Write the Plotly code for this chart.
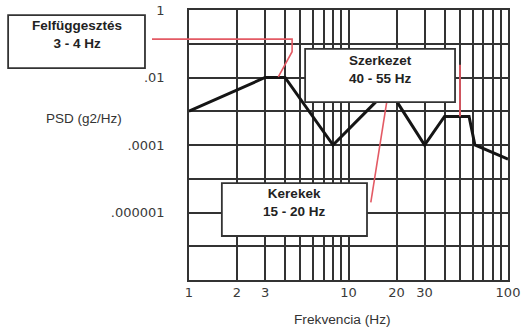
import math
import plotly.graph_objects as go

# ---- data ----
freq_hz = [1, 3, 4, 8, 15, 20, 30, 40, 57, 62, 100]
psd_g2hz = [1e-3, 1e-2, 1e-2, 1e-4, 2e-3, 2e-3, 1e-4, 7e-4, 7e-4, 1e-4, 3.8e-5]

x_grid = [1, 2, 3, 4, 5, 6, 7, 8, 9, 10, 20, 30, 40, 50, 60, 70, 80, 90, 100]
x_text = ['1', '2', '3', '', '', '', '', '', '', '10', '20', '30', '', '', '', '', '', '', '100']
y_grid = [1e-8, 1e-7, 1e-6, 1e-5, 1e-4, 1e-3, 1e-2, 1e-1, 1]
y_text = ['', '', '.000001', '', '.0001', '', '.01', '', '1']

box_titles = ['Felfüggesztés', 'Szerkezet', 'Kerekek']
box_ranges = ['3 - 4 Hz', '40 - 55 Hz', '15 - 20 Hz']

X_RANGE = [0, 2]
Y_RANGE = [-8, 0]

def xp(v):
    return (math.log10(v) - X_RANGE[0]) / (X_RANGE[1] - X_RANGE[0])

def yp(v):
    return (math.log10(v) - Y_RANGE[0]) / (Y_RANGE[1] - Y_RANGE[0])

fig = go.Figure()
fig.add_trace(go.Scatter(x=freq_hz, y=psd_g2hz, mode='lines',
                         line=dict(color='#151515', width=3), hoverinfo='skip',
                         showlegend=False))

grid_col = '#333333'
fig.update_xaxes(type='log', range=X_RANGE, tickvals=x_grid, ticktext=x_text,
                 showgrid=True, gridcolor=grid_col, gridwidth=1.6, automargin=False,
                 showline=True, linecolor=grid_col, linewidth=1.6, mirror=True,
                 ticks='', tickfont=dict(family='DejaVu Sans', size=13, color='#3a3a3a'))
fig.update_yaxes(type='log', range=Y_RANGE, tickvals=y_grid, ticktext=y_text,
                 showgrid=True, gridcolor=grid_col, gridwidth=1.6, automargin=False,
                 showline=True, linecolor=grid_col, linewidth=1.6, mirror=True,
                 ticks='', ticklabelstandoff=20,
                 tickfont=dict(family='DejaVu Sans', size=13, color='#3a3a3a'))

red = '#e35a64'
shapes = []
# leader line: Felfüggesztés -> 3-4 Hz plateau
shapes.append(dict(type='path', xref='paper', yref='paper', layer='above',
                   path=f'M -0.116,{yp(0.137):.4f} L {xp(4.43):.4f},{yp(0.137):.4f} '
                        f'L {xp(4.43):.4f},{yp(0.058):.4f} L {xp(3.63):.4f},{yp(0.0105):.4f}',
                   line=dict(color=red, width=1.6)))
# leader line: Szerkezet -> 40-55 Hz plateau
shapes.append(dict(type='line', xref='x', yref='y', layer='above',
                   x0=50, x1=50, y0=0.024, y1=7e-4, line=dict(color=red, width=1.8)))
# leader line: Kerekek -> 15-20 Hz plateau
shapes.append(dict(type='line', xref='x', yref='y', layer='above',
                   x0=17.4, x1=13.8, y0=2e-3, y1=2e-6, line=dict(color=red, width=1.6)))

# boxes (paper coordinates)
boxes = [(-0.567, -0.138, 0.785, 0.981),
         (0.364, 0.834, 0.659, 0.856),
         (0.103, 0.558, 0.163, 0.359)]
centers = [(-0.351, 0.909), (0.599, 0.780), (0.332, 0.287)]
for (x0, x1, y0, y1) in boxes:
    shapes.append(dict(type='rect', xref='paper', yref='paper', layer='above',
                       x0=x0, x1=x1, y0=y0, y1=y1, fillcolor='white',
                       line=dict(color='#333333', width=1.8)))

annotations = []
for (cx, cy), t, r in zip(centers, box_titles, box_ranges):
    annotations.append(dict(xref='paper', yref='paper', x=cx, y=cy, showarrow=False,
                            text=f'<b>{t}<br>{r}</b>', align='center',
                            xanchor='center', yanchor='middle',
                            font=dict(family='Liberation Sans', size=13.5, color='#222222')))
annotations.append(dict(xref='paper', yref='paper', x=-0.328, y=0.6, showarrow=False,
                        text='PSD (g2/Hz)', xanchor='center', yanchor='middle',
                        font=dict(family='Liberation Sans', size=13.5, color='#333333')))
annotations.append(dict(xref='paper', yref='paper', x=0.48, y=-0.148, showarrow=False,
                        text='Frekvencia (Hz)', xanchor='center', yanchor='middle',
                        font=dict(family='Liberation Sans', size=13.7, color='#333333')))

fig.update_layout(width=521, height=329, margin=dict(l=189, r=13, t=10, b=49),
                  paper_bgcolor='white', plot_bgcolor='white',
                  shapes=shapes, annotations=annotations, showlegend=False)

fig.write_html('out.html', config={'displayModeBar': False},
               post_script="document.body.style.margin='0';document.body.style.overflow='hidden';")
